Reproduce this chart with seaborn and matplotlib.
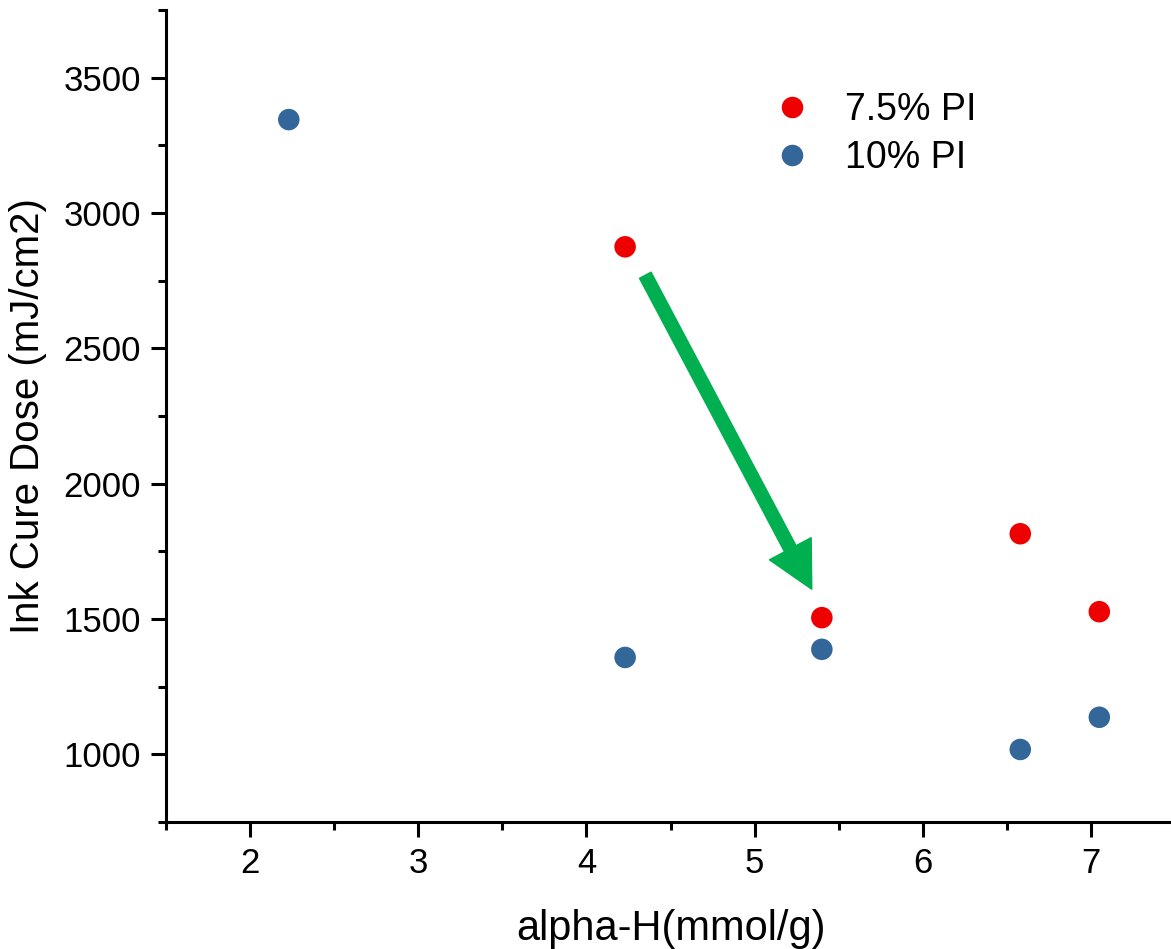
import matplotlib

matplotlib.use("Agg")
import matplotlib.pyplot as plt
import numpy as np
import pandas as pd
import seaborn as sns
from matplotlib.ticker import MultipleLocator

# data
alpha_h_75 = [4.23, 5.40, 6.58, 7.05]
dose_75 = [2875, 1505, 1815, 1527]
alpha_h_10 = [2.23, 4.23, 5.40, 6.58, 7.05]
dose_10 = [3345, 1358, 1388, 1018, 1137]
series_names = ["7.5% PI", "10% PI"]
arrow_tail = (4.35, 2770)
arrow_tip = (5.34, 1610)

df = pd.DataFrame(
    {
        "alpha": alpha_h_75 + alpha_h_10,
        "dose": dose_75 + dose_10,
        "series": [series_names[0]] * len(alpha_h_75) + [series_names[1]] * len(alpha_h_10),
    }
)

sns.set_style("ticks")
plt.rcParams["font.family"] = ["Liberation Sans", "DejaVu Sans"]
plt.rcParams["text.color"] = "black"
plt.rcParams["axes.labelcolor"] = "black"
plt.rcParams["xtick.color"] = "black"
plt.rcParams["ytick.color"] = "black"

fig = plt.figure(figsize=(11.71, 9.49), dpi=100)
ax = fig.add_axes([0.1418, 0.1338, 1.0034 - 0.1418, 0.9895 - 0.1338])

palette = {series_names[0]: "#EE0000", series_names[1]: "#336699"}
sns.scatterplot(
    data=df, x="alpha", y="dose", hue="series", palette=palette,
    s=240, edgecolor="none", ax=ax, legend=True,
)

ax.annotate(
    "", xy=arrow_tip, xytext=arrow_tail,
    arrowprops=dict(
        arrowstyle="simple,head_length=1.65,head_width=1.7,tail_width=0.47",
        color="#00B050", shrinkA=0, shrinkB=0, mutation_scale=20,
    ),
)

ax.set_xlim(1.5, 7.5)
ax.set_ylim(750, 3750)
ax.xaxis.set_major_locator(MultipleLocator(1))
ax.xaxis.set_minor_locator(MultipleLocator(0.5))
ax.yaxis.set_minor_locator(MultipleLocator(250))
ax.set_yticks([1000, 1500, 2000, 2500, 3000, 3500])

for side in ["top", "right"]:
    ax.spines[side].set_visible(False)
for side in ["left", "bottom"]:
    ax.spines[side].set_linewidth(2.2)
    ax.spines[side].set_color("black")

ax.tick_params(which="major", direction="out", length=11, width=2.2, labelsize=25, pad=7)
ax.tick_params(which="minor", direction="out", length=6, width=2.2)

ax.set_xlabel("alpha-H(mmol/g)", fontsize=30, labelpad=21)
ax.set_ylabel("Ink Cure Dose (mJ/cm2)", fontsize=29, labelpad=12)

leg = ax.legend(
    loc="upper left", bbox_to_anchor=(0.55, 0.94), frameon=False,
    fontsize=27, handletextpad=0.4, labelspacing=0.3, markerscale=1.0,
)

fig.savefig("out.png", dpi=100)
